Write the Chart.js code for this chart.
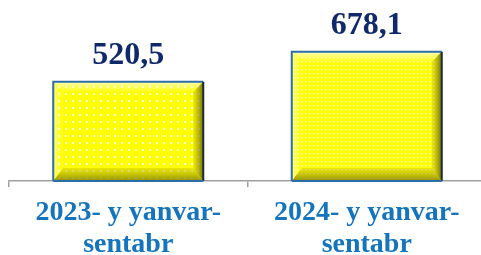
<!DOCTYPE html>
<html>
<head>
<meta charset="utf-8">
<script src="https://cdn.jsdelivr.net/npm/chart.js@4"></script>
<style>
  html, body { margin: 0; padding: 0; background: #ffffff; overflow: hidden; }
  #wrap { width: 481px; height: 255px; overflow: hidden; }
</style>
</head>
<body>
<div id="wrap"><canvas id="chart" width="486" height="255"></canvas></div>
<script>
// Data
const categories = [['2023- y yanvar-', 'sentabr'], ['2024- y yanvar-', 'sentabr']];
const values = [520.5, 678.1];
const dotSpacing = [7, 4]; // first bar has sparser dots than the second

// small dotted pattern used as overlay on the yellow bars
function makeDots(step) {
    const c = document.createElement('canvas');
    c.width = step; c.height = step;
    const g = c.getContext('2d');
    g.fillStyle = 'rgba(255,255,255,0.85)';
    g.fillRect(Math.floor(step / 2) - 1, Math.floor(step / 2) - 1, step > 5 ? 2 : 1.5, step > 5 ? 2 : 1.5);
    return c;
}

// bevel + dots + border on top of each bar, using the bar element geometry
const bevelPlugin = {
    id: 'bevel',
    afterDatasetsDraw(chart) {
        const ctx = chart.ctx;
        const meta = chart.getDatasetMeta(0);
        meta.data.forEach((bar, i) => {
            const l = bar.x - bar.width / 2, r = bar.x + bar.width / 2;
            const t = bar.y, b = bar.base;
            const bv = 10, bb = 13;
            ctx.save();

            // dots
            ctx.fillStyle = ctx.createPattern(makeDots(dotSpacing[i]), 'repeat');
            ctx.fillRect(l, t, r - l, b - t);

            // top bevel
            let gr = ctx.createLinearGradient(0, t, 0, t + bv);
            gr.addColorStop(0, 'rgba(255,255,210,0.9)');
            gr.addColorStop(1, 'rgba(255,255,120,0.2)');
            ctx.fillStyle = gr;
            ctx.beginPath();
            ctx.moveTo(l, t); ctx.lineTo(r, t); ctx.lineTo(r - bv, t + bv); ctx.lineTo(l + bv, t + bv); ctx.closePath();
            ctx.fill();

            // left bevel
            gr = ctx.createLinearGradient(l, 0, l + bv, 0);
            gr.addColorStop(0, 'rgba(255,255,170,0.7)');
            gr.addColorStop(1, 'rgba(255,255,120,0.1)');
            ctx.fillStyle = gr;
            ctx.beginPath();
            ctx.moveTo(l, t); ctx.lineTo(l + bv, t + bv); ctx.lineTo(l + bv, b - bb); ctx.lineTo(l, b); ctx.closePath();
            ctx.fill();

            // right bevel
            gr = ctx.createLinearGradient(r - bv, 0, r, 0);
            gr.addColorStop(0, 'rgba(170,165,0,0.25)');
            gr.addColorStop(1, 'rgba(90,85,0,0.85)');
            ctx.fillStyle = gr;
            ctx.beginPath();
            ctx.moveTo(r, t); ctx.lineTo(r, b); ctx.lineTo(r - bv, b - bb); ctx.lineTo(r - bv, t + bv); ctx.closePath();
            ctx.fill();

            // bottom bevel
            gr = ctx.createLinearGradient(0, b - bb, 0, b);
            gr.addColorStop(0, 'rgba(190,185,0,0.35)');
            gr.addColorStop(1, 'rgba(120,115,0,0.8)');
            ctx.fillStyle = gr;
            ctx.beginPath();
            ctx.moveTo(l, b); ctx.lineTo(r, b); ctx.lineTo(r - bv, b - bb); ctx.lineTo(l + bv, b - bb); ctx.closePath();
            ctx.fill();

            // border: blue top/left, dark right
            ctx.lineWidth = 2;
            ctx.strokeStyle = '#2d6ea8';
            ctx.beginPath();
            ctx.moveTo(l, b); ctx.lineTo(l, t); ctx.lineTo(r, t);
            ctx.stroke();
            ctx.strokeStyle = '#1b2a3a';
            ctx.beginPath();
            ctx.moveTo(r, t); ctx.lineTo(r, b);
            ctx.stroke();
            ctx.strokeStyle = '#2d6ea8';
            ctx.beginPath();
            ctx.moveTo(l, b); ctx.lineTo(r, b);
            ctx.stroke();

            // value label
            ctx.fillStyle = '#10296b';
            ctx.font = "bold 32px 'Liberation Serif'";
            ctx.textAlign = 'center';
            ctx.textBaseline = 'middle';
            ctx.fillText(values[i].toFixed(1).replace('.', ','), bar.x, t - 26);
            ctx.restore();
        });
    }
};

new Chart(document.getElementById('chart'), {
    type: 'bar',
    data: {
        labels: categories,
        datasets: [{
            data: values,
            backgroundColor: '#ffff00',
            borderWidth: 0,
            barPercentage: 0.629,
            categoryPercentage: 1
        }]
    },
    options: {
        responsive: false,
        animation: false,
        layout: { padding: { left: 9, right: 0, top: 0, bottom: 0 } },
        plugins: { legend: { display: false }, tooltip: { enabled: false } },
        scales: {
            y: { display: false, min: 0, max: 950 },
            x: {
                afterFit: function (scale) { scale.height = 74; },
                grid: {
                    drawOnChartArea: false,
                    drawTicks: true,
                    tickLength: 6,
                    color: '#a0a0a0',
                    lineWidth: 1.5,
                    offset: true
                },
                border: { color: '#a0a0a0', width: 1.5 },
                ticks: {
                    padding: 10,
                    color: '#1474bd',
                    maxRotation: 0,
                    font: { family: "'Liberation Serif'", size: 28, weight: 'bold', lineHeight: 1.143 }
                }
            }
        }
    },
    plugins: [bevelPlugin]
});
</script>
</body>
</html>
